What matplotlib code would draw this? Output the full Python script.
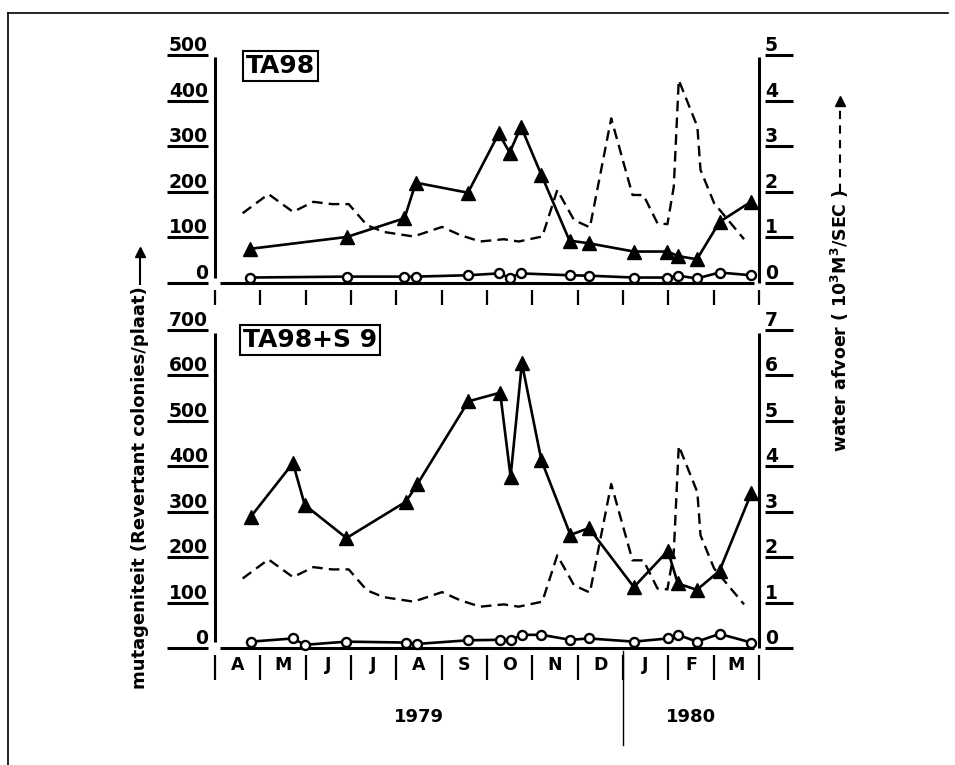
import matplotlib
matplotlib.use("Agg")
import matplotlib.pyplot as plt
from matplotlib.lines import Line2D
from matplotlib.transforms import blended_transform_factory as blend, offset_copy

plt.rcParams["font.family"] = "DejaVu Sans"
plt.rcParams["font.weight"] = "bold"
plt.rcParams["mathtext.default"] = "bf"

# time axis: months since 1 April 1979
MONTHS = ["A", "M", "J", "J", "A", "S", "O", "N", "D", "J", "F", "M"]
YEARS = ["1979", "1980"]
YEAR_START = [0, 9]
YEAR_END = [9, 12]

# TA98 (revertant colonies / plate)
ta98_tri_t = [0.78, 2.91, 4.18, 4.43, 5.58, 6.26, 6.50, 6.75, 7.20, 7.82,
              8.25, 9.24, 9.98, 10.22, 10.63, 11.13, 11.82]
ta98_tri = [75, 101, 142, 220, 198, 328, 286, 343, 237, 93,
            87, 69, 69, 59, 52, 134, 178]
ta98_circ_t = [0.78, 2.91, 4.18, 4.43, 5.58, 6.26, 6.50, 6.75, 7.82, 8.25,
               9.24, 9.98, 10.22, 10.63, 11.13, 11.82]
ta98_circ = [12, 14, 14, 14, 17, 21, 12, 21, 17, 16,
             12, 12, 16, 10, 23, 17]

# TA98 + S9
s9_t = [0.79, 1.72, 1.98, 2.90, 4.21, 4.46, 5.59, 6.29, 6.52, 6.77,
        7.20, 7.84, 8.25, 9.24, 9.99, 10.21, 10.63, 11.13, 11.83]
s9_tri = [289, 407, 315, 242, 322, 360, 543, 562, 377, 627,
          413, 249, 264, 134, 214, 142, 128, 170, 341]
s9_circ = [14, 21, 7, 14, 12, 9, 17, 18, 18, 29,
           29, 18, 21, 14, 21, 29, 14, 31, 12]

# water discharge (10^3 m3/s)
flow_t = [0.61, 1.18, 1.72, 2.17, 2.58, 2.95, 3.35, 3.72, 4.38, 5.01,
          5.41, 5.85, 6.37, 6.70, 7.22, 7.55, 7.92, 8.27, 8.74, 9.21,
          9.45, 9.76, 9.98, 10.12, 10.23, 10.64, 10.71, 11.01, 11.67]
flow = [1.53, 1.95, 1.56, 1.78, 1.73, 1.73, 1.27, 1.12, 1.02, 1.23,
        1.05, 0.91, 0.96, 0.91, 1.02, 2.04, 1.38, 1.22, 3.61, 1.93,
        1.93, 1.31, 1.29, 2.11, 4.45, 3.43, 2.48, 1.75, 0.96]

W, H = 955, 765
fig = plt.figure(figsize=(W / 100, H / 100), dpi=100)


def px_rect(x0, y0, x1, y1):
    return [x0 / W, 1 - y1 / H, (x1 - x0) / W, (y1 - y0) / H]


def panel(ax, ymax, step, rmax, t_tri, tri, t_circ, circ, label, lab_xy,
          tick_y):
    ax.set_xlim(0, 12)
    ax.set_ylim(0, ymax)
    ax.axis("off")
    tw = ax.twinx()
    tw.set_ylim(0, rmax)
    tw.axis("off")
    tw.set_zorder(ax.get_zorder() - 1)
    ax.patch.set_visible(False)

    tw.plot(flow_t, flow, color="k", lw=1.7, dashes=(4.5, 2.6), clip_on=False)
    ax.plot(t_tri, tri, color="k", lw=1.9, marker="^", ms=9.5, clip_on=False,
            zorder=3)
    ax.plot(t_circ, circ, color="k", lw=1.9, marker="o", ms=6.5, mfc="white",
            mec="k", mew=1.7, clip_on=False, zorder=4)

    kw = dict(color="k", clip_on=False, solid_capstyle="butt")
    # frame lines
    ax.plot([0, 0], [0.02, 0.99], transform=ax.transAxes, lw=2.2, **kw)
    ax.plot([1, 1], [0.0, 0.99], transform=ax.transAxes, lw=2.2, **kw)
    trl = blend(ax.transAxes, ax.transData)
    ax.plot([0.01, 0.99], [0, 0], transform=trl, lw=2.2, **kw)

    # left ticks: underlined labels
    lab_tr = offset_copy(trl, fig=fig, y=4, units="dots")
    for v in range(0, ymax + 1, step):
        ax.plot([-0.088, -0.013], [v, v], transform=trl, lw=2.2, **kw)
        ax.text(-0.013, v, str(v), transform=lab_tr, ha="right",
                va="baseline", fontsize=13.5, fontweight="bold")
    trr = blend(tw.transAxes, tw.transData)
    rlab_tr = offset_copy(trr, fig=fig, y=4, units="dots")
    for v in range(0, rmax + 1):
        tw.plot([1.011, 1.062], [v, v], transform=trr, lw=2.2, **kw)
        tw.text(1.011, v, str(v), transform=rlab_tr, ha="left",
                va="baseline", fontsize=13.5, fontweight="bold")

    # month ticks under the panel
    trm = blend(ax.transData, ax.transAxes)
    for m in range(len(MONTHS) + 1):
        ax.plot([m, m], tick_y, transform=trm, lw=1.6, **kw)

    ax.text(lab_xy[0], lab_xy[1], label, transform=ax.transAxes,
            ha="center", va="center", fontsize=18, fontweight="bold",
            bbox=dict(boxstyle="square,pad=0.12", fc="white", ec="k", lw=1.5))
    return trm


ax1 = fig.add_axes(px_rect(215, 55, 759, 283))
ax2 = fig.add_axes(px_rect(215, 330, 759, 648))

panel(ax1, 500, 100, 5, ta98_tri_t, ta98_tri, ta98_circ_t, ta98_circ,
      "TA98", (0.121, 0.952), [-0.031, -0.097])
trm = panel(ax2, 700, 100, 7, s9_t, s9_tri, s9_t, s9_circ,
            "TA98+S 9", (0.174, 0.969), [-0.022, -0.10])

# month and year labels
for i, m in enumerate(MONTHS):
    ax2.text(i + 0.5, -0.054, m, transform=trm, ha="center", va="center",
             fontsize=12.5, fontweight="bold")
for y, a, b in zip(YEARS, YEAR_START, YEAR_END):
    ax2.text((a + b) / 2, -0.217, y, transform=trm, ha="center",
             va="center", fontsize=13, fontweight="bold")
ax2.plot([YEAR_START[1]] * 2, [-0.01, -0.305], transform=trm, color="k",
         lw=1.0, clip_on=False)

# axis titles
fig.text(140 / W, 1 - 488 / H, "mutageniteit (Revertant colonies/plaat)",
         rotation=90, ha="center", va="center", fontsize=13, fontweight="bold")
fig.add_artist(Line2D([140 / W] * 2, [1 - 284 / H, 1 - 255 / H], color="k",
                      lw=1.5))
fig.add_artist(Line2D([140 / W], [1 - 252 / H], marker="^", ms=7, color="k"))

fig.text(840 / W, 1 - 320 / H, "water afvoer ( 10$^3$M$^3$/SEC )",
         rotation=90, ha="center", va="center", fontsize=12.5,
         fontweight="bold")
fig.add_artist(Line2D([840 / W] * 2, [1 - 192 / H, 1 - 106 / H], color="k",
                      lw=1.5, dashes=(4, 3)))
fig.add_artist(Line2D([840 / W], [1 - 101 / H], marker="^", ms=7, color="k"))

# outer frame of the scanned page
fig.add_artist(Line2D([8 / W, 948 / W], [1 - 13 / H] * 2, color="k", lw=1.2))
fig.add_artist(Line2D([8 / W] * 2, [1 - 13 / H, 0], color="k", lw=1.2))

fig.savefig("out.png", dpi=100)
